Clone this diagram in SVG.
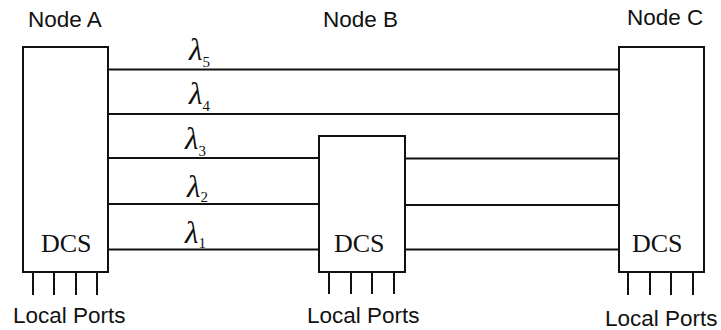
<svg xmlns="http://www.w3.org/2000/svg" width="721" height="330" viewBox="0 0 721 330">
<style>
.box{fill:#fff;stroke:#111;stroke-width:2}
.ln{stroke:#111;stroke-width:2;fill:none}
.lbl{font-family:"Liberation Sans",Arial,sans-serif;font-size:22.5px;fill:#111}
.dcs{font-family:"Liberation Serif","Times New Roman",serif;font-size:26px;fill:#111}
.lam{font-family:"Liberation Serif","Times New Roman",serif;font-style:italic;font-size:31px;fill:#111}
.sub{font-size:15px;font-style:normal}
</style>
<rect width="721" height="330" fill="#fff"/>
<g id="connectors">
<line class="ln" x1="108" y1="69.5" x2="619" y2="69.5"/>
<line class="ln" x1="108" y1="114" x2="619" y2="114"/>
<line class="ln" x1="108" y1="158" x2="319" y2="158"/>
<line class="ln" x1="108" y1="204" x2="319" y2="204"/>
<line class="ln" x1="108" y1="249.5" x2="319" y2="249.5"/>
<line class="ln" x1="405" y1="158.5" x2="619" y2="158.5"/>
<line class="ln" x1="405" y1="205" x2="619" y2="205"/>
<line class="ln" x1="405" y1="249.5" x2="619" y2="249.5"/>
<text class="lam" x="189" y="60">λ<tspan class="sub" dy="7">5</tspan></text>
<text class="lam" x="189" y="104">λ<tspan class="sub" dy="7">4</tspan></text>
<text class="lam" x="185" y="149">λ<tspan class="sub" dy="7">3</tspan></text>
<text class="lam" x="187" y="197">λ<tspan class="sub" dy="5">2</tspan></text>
<text class="lam" x="185" y="243">λ<tspan class="sub" dy="5">1</tspan></text>
</g>
<g id="nodeA">
<text class="lbl" x="28" y="27">Node A</text>
<rect class="box" x="23" y="47" width="85" height="225"/>
<text class="dcs" x="41" y="252">DCS</text>
<path class="ln" d="M33 272V295M54 272V295M76 272V295M97 272V295"/>
<text class="lbl" x="13" y="323">Local Ports</text>
</g>
<g id="nodeB">
<text class="lbl" x="323" y="27">Node B</text>
<rect class="box" x="319" y="136" width="86" height="136"/>
<text class="dcs" x="334" y="252">DCS</text>
<path class="ln" d="M329 272V294M351 272V294M372 272V294M394 272V294"/>
<text class="lbl" x="307" y="323">Local Ports</text>
</g>
<g id="nodeC">
<text class="lbl" x="627" y="25">Node C</text>
<rect class="box" x="619" y="47" width="85" height="225"/>
<text class="dcs" x="632" y="252">DCS</text>
<path class="ln" d="M628 272V295M650 272V295M671 272V295M693 272V295"/>
<text class="lbl" x="605" y="326" font-size="22">Local Ports</text>
</g>
</svg>
